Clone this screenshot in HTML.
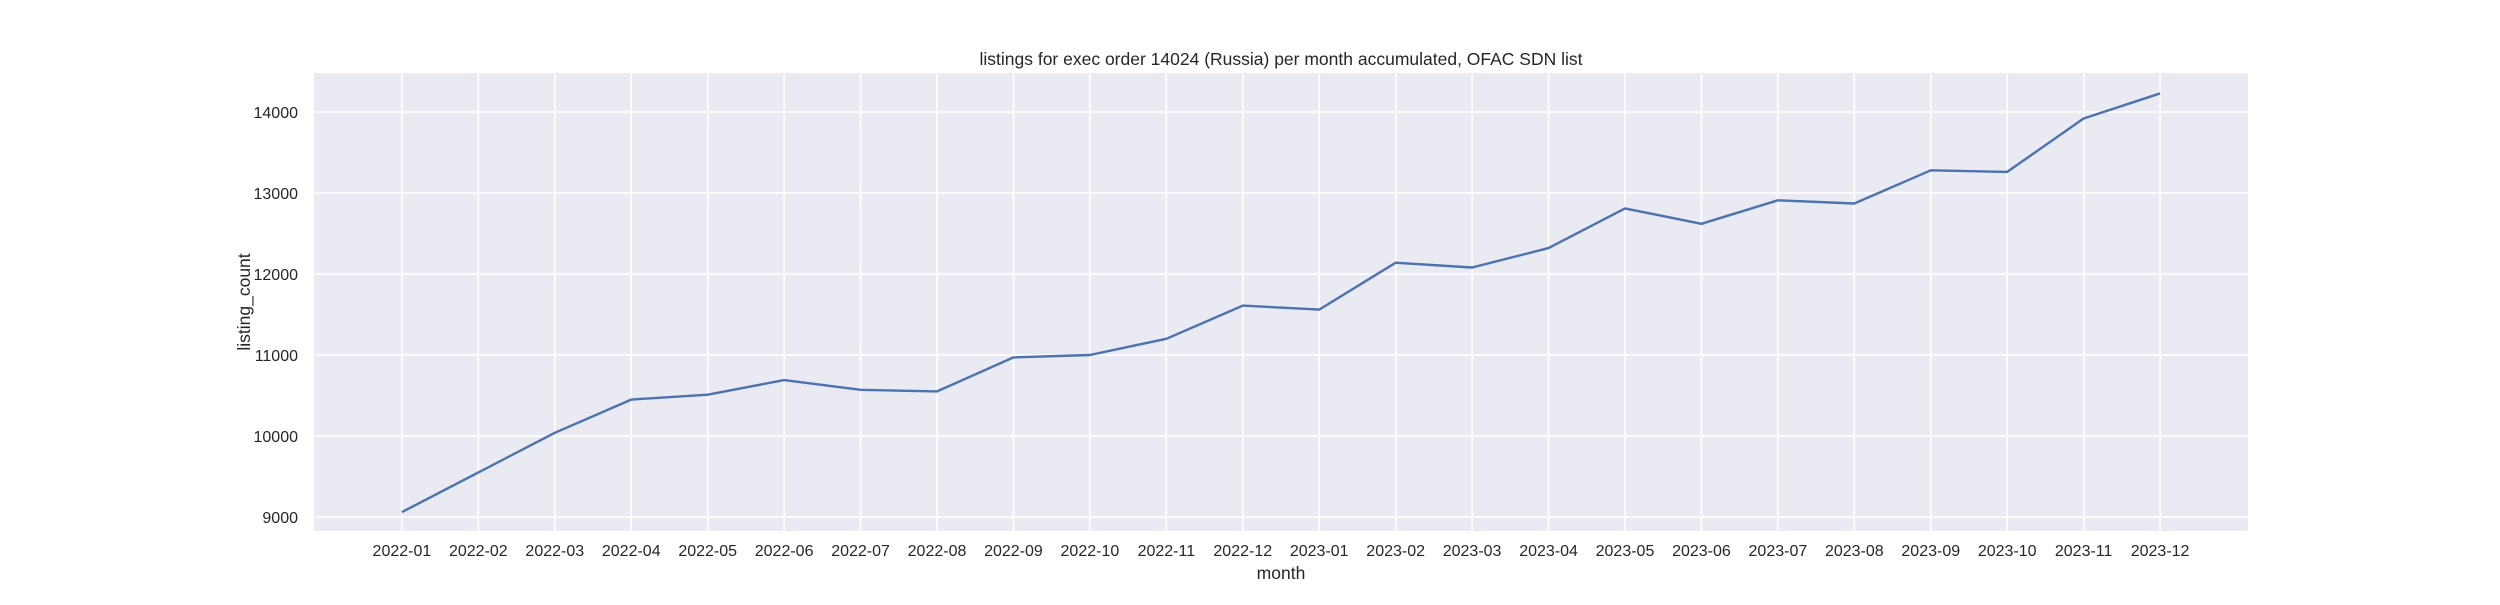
<!DOCTYPE html>
<html><head><meta charset="utf-8"><style>
body{margin:0;background:#fff;}
svg text{font-family:"Liberation Sans",sans-serif;fill:#262626;}
</style></head><body>
<svg id="chart" width="2500" height="600" viewBox="0 0 2500 600">
<rect x="314" y="73" width="1934" height="458" fill="#eaeaf2"/>
<g id="grid"></g>
<g id="xt"></g>
<g id="yt"></g>
<path id="line" fill="none" stroke="#4c72b0" stroke-width="2.4" stroke-linejoin="round"/>
<text x="1281" y="65" font-size="17.5" text-anchor="middle">listings for exec order 14024 (Russia) per month accumulated, OFAC SDN list</text>
<text x="1281" y="579" font-size="17.5" text-anchor="middle">month</text>
<text transform="translate(250,302) rotate(-90)" font-size="17.5" text-anchor="middle">listing_count</text>
</svg>
<script>
const months = ["2022-01","2022-02","2022-03","2022-04","2022-05","2022-06","2022-07","2022-08","2022-09","2022-10","2022-11","2022-12","2023-01","2023-02","2023-03","2023-04","2023-05","2023-06","2023-07","2023-08","2023-09","2023-10","2023-11","2023-12"];
const counts = [9060,9550,10040,10450,10510,10690,10570,10550,10970,11000,11200,11610,11560,12140,12080,12320,12810,12620,12910,12870,13280,13260,13920,14230];
const yTicks = [9000,10000,11000,12000,13000,14000];
const NS="http://www.w3.org/2000/svg";
const L=314,R=2248,T=73,B=531;
const xs=i=>L+(i+1.15)*(R-L)/(months.length-1+2.3);
const ys=v=>112+(14000-v)*0.081;
const grid=document.getElementById('grid'),xt=document.getElementById('xt'),yt=document.getElementById('yt');
function mk(tag,attrs,parent){const e=document.createElementNS(NS,tag);for(const k in attrs)e.setAttribute(k,attrs[k]);parent.appendChild(e);return e;}
months.forEach((m,i)=>{
  const x=xs(i);
  const g=mk('line',{x1:x,x2:x,y1:T,y2:B,stroke:'#fff','stroke-width':1.6},grid);
  
  
  const t=mk('text',{x:x,y:556,'font-size':16,'text-anchor':'middle'},xt);
  t.textContent=m;
  
  
});
yTicks.forEach(v=>{
  const y=ys(v);
  const g=mk('line',{x1:L,x2:R,y1:y,y2:y,stroke:'#fff','stroke-width':1.6},grid);
  
  
  const t=mk('text',{x:298,y:y+6,'font-size':16,'text-anchor':'end'},yt);
  t.textContent=v;
  
  
});
document.getElementById('line').setAttribute('d',counts.map((v,i)=>(i?'L':'M')+xs(i).toFixed(1)+','+ys(v).toFixed(1)).join(''));
</script>
</body></html>
